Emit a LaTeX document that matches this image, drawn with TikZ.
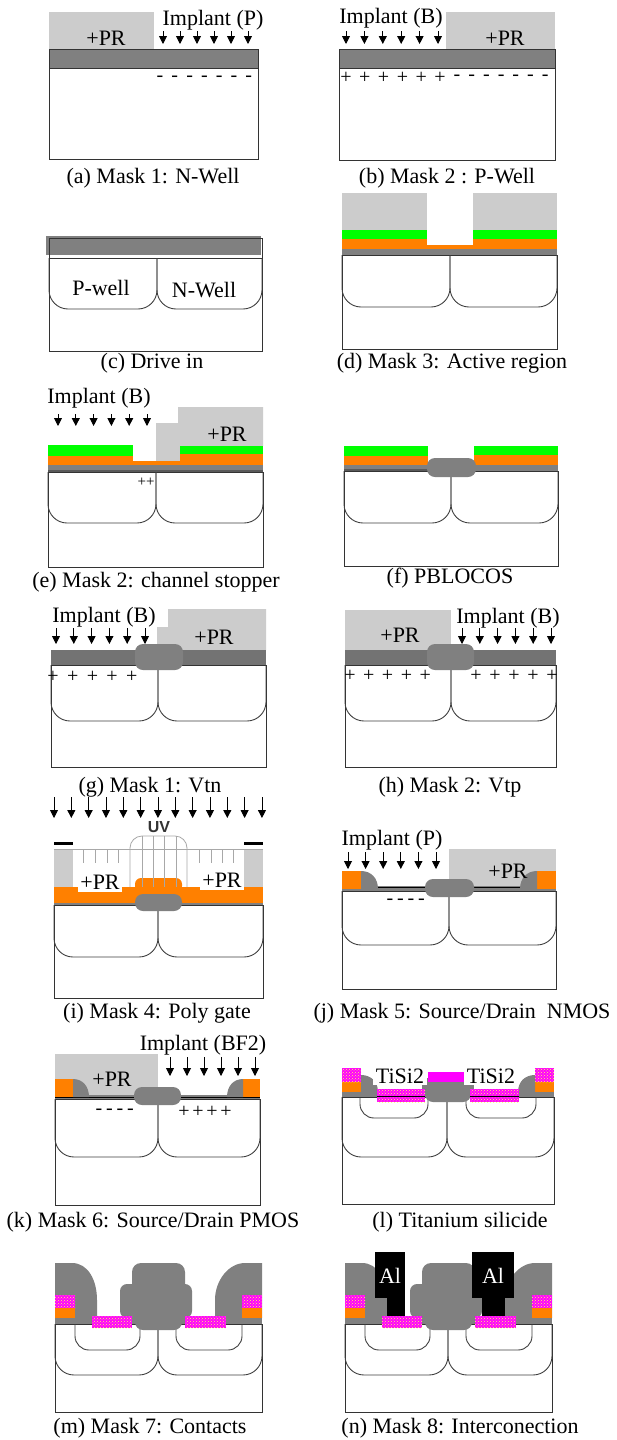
\documentclass[tikz,border=0pt]{standalone}
\usepackage{fontspec}
\setmainfont{Liberation Serif}
\newfontfamily\uvfont{Liberation Sans}
\usetikzlibrary{arrows.meta,patterns}

\definecolor{prgray}{HTML}{CCCCCC}
\definecolor{oxgray}{HTML}{808080}
\definecolor{siorange}{HTML}{FF8000}
\definecolor{nitgreen}{HTML}{00FF00}
\definecolor{tisi}{HTML}{FF00FF}
\definecolor{edge}{HTML}{333333}
\definecolor{uvgray}{HTML}{A8A8A8}

\tikzset{
  lbl/.style={font=\fontsize{22}{26}\selectfont, inner sep=0pt},
  sign/.style={font=\fontsize{20}{24}\selectfont, inner sep=0pt},
  implant/.style={-{Triangle[width=8pt,length=8pt]}, line width=0.9pt, black},
  substrate/.style={draw=edge, line width=1pt},
  wellline/.style={draw=black!75, line width=0.9pt, rounded corners=19pt},
  junction/.style={draw=black!75, line width=0.9pt, rounded corners=14pt},
  resist/.style={fill=prgray},
  oxide/.style={fill=oxgray},
  poly/.style={fill=siorange},
  nitride/.style={fill=nitgreen},
  locos/.style={fill=oxgray, rounded corners=8pt},
  silicide/.style={fill=tisi, postaction={pattern=crosshatch dots, pattern color=yellow!60!white}},
  uvline/.style={draw=uvgray, line width=0.8pt},
}

% two wells side by side: left x, divider x, right x, top y, bottom y
\newcommand\wellpair[5]{%
  \draw[wellline] (#1,#4) -- (#1,#5) -- (#2,#5) -- (#2,#4);
  \draw[wellline] (#2,#4) -- (#2,#5) -- (#3,#5) -- (#3,#4);}
% row of implant arrows: first x, step, count, top y, tip y
\newcommand\implantrow[5]{%
  \foreach \k in {1,...,#3}
    \draw[implant] ({#1+(\k-1)*#2},#4) -- ({#1+(\k-1)*#2},#5);}
% row of charge signs: first x, step, count, y, symbol, name prefix
\newcommand\chargerow[6]{%
  \foreach \k in {1,...,#3}
    \node[sign] (#6\k) at ({#1+(\k-1)*#2},#4) {#5};}
% sidewall spacer: x at the wall, top y, bottom y, outer foot x
\newcommand\spacer[4]{%
  \fill[oxgray] (#1,#3) -- (#1,#2) .. controls ({#1+0.6*(#4-#1)},#2) and (#4,{#2+0.4*(#3-#2)}) .. (#4,#3) -- cycle;}
% contact-level dielectric over one transistor pair: x offset
\newcommand\dielectric[1]{%
  \begin{scope}[xshift=#1pt]
  \fill[oxgray] (55,1318) -- (55,1263) -- (72,1263) .. controls (88,1263) and (97,1280) .. (97,1300) -- (97,1318) -- cycle;
  \fill[oxgray] (262,1318) -- (262,1263) -- (245,1263) .. controls (229,1263) and (215,1280) .. (215,1300) -- (215,1318) -- cycle;
  \fill[oxgray, rounded corners=7pt] (120,1318) -- (120,1284) -- (192,1284) -- (192,1318) -- cycle;
  \fill[oxgray, rounded corners=9pt] (132,1300) -- (132,1263) -- (185,1263) -- (185,1300) -- cycle;
  \end{scope}}

\begin{document}
\begin{tikzpicture}[x=1pt,y=-1pt]
\useasboundingbox (0,0) rectangle (616,1440);
\fill[white] (0,0) rectangle (616,1440);

% ---------------- (a) N-well implant
\fill[oxide] (49,49) rectangle (258,68);
\draw[substrate] (49,49) rectangle (258,159);
\draw[substrate] (49,68) -- (258,68);
\fill[resist] (49,12) rectangle (154,49);
\node[lbl] (apr) at (106,38) {+PR};
\node[lbl] (aimp) at (213,20) {Implant (P)};
\implantrow{163}{17}{6}{31}{44}
\chargerow{160}{14.8}{7}{79}{-}{aneg}
\node[lbl] (acap) at (153,178) {(a) Mask 1: N-Well};

% ---------------- (b) P-well implant
\fill[oxide] (339,49) rectangle (555,68);
\draw[substrate] (339,49) rectangle (555,160);
\draw[substrate] (339,68) -- (555,68);
\fill[resist] (446,12) rectangle (555,48.5);
\node[lbl] (bpr) at (505,38) {+PR};
\node[lbl] (bimp) at (391,18) {Implant (B)};
\implantrow{346}{18.4}{6}{31}{44}
\chargerow{346}{18.8}{6}{78}{+}{bpos}
\chargerow{457}{14.7}{7}{78}{-}{bneg}
\node[lbl] (bcap) at (447,178) {(b) Mask 2 : P-Well};

% ---------------- (c) drive in
\fill[oxide] (46,236) rectangle (261,255);
\draw[substrate] (49,238) rectangle (262,258);
\draw[substrate] (49,258) rectangle (262,351);
\wellpair{49}{157}{262}{258}{309}
\node[lbl] (cpw) at (101,288) {P-well};
\node[lbl] (cnw) at (204,290) {N-Well};
\node[lbl] (ccap) at (152,363) {(c) Drive in};

% ---------------- (d) active region
\fill[resist] (342,193) rectangle (427,230);
\fill[resist] (473,193) rectangle (557,230);
\fill[nitride] (342,230) rectangle (427,239);
\fill[nitride] (473,230) rectangle (557,239);
\fill[poly] (342,239) rectangle (427,249);
\fill[poly] (473,239) rectangle (557,249);
\fill[poly] (427,245) rectangle (473,249);
\fill[oxide] (342,249) rectangle (557,255);
\draw[substrate] (342,255) rectangle (557,349);
\wellpair{342}{450}{557}{255}{307}
\node[lbl] (dcap) at (452,363) {(d) Mask 3: Active region};

% ---------------- (e) channel stopper
\fill[resist] (156,461) -- (156,423) -- (178,423) -- (178,407) -- (263,407) -- (263,446) -- (180,446) -- (180,461) -- cycle;
\fill[poly] (48,461) rectangle (263,465);
\fill[poly] (48,456) rectangle (133,465);
\fill[poly] (180,454) rectangle (263,465);
\fill[nitride] (48,445) rectangle (133,456);
\fill[nitride] (180,446) rectangle (263,454);
\fill[oxide] (48,465) rectangle (263,472);
\fill[black!65] (48,470) rectangle (263,472);
\draw[substrate] (48,472) rectangle (263,567);
\wellpair{48}{156}{263}{472}{523}
\node[lbl] (epr) at (227,434) {+PR};
\node[lbl] (eimp) at (99,398) {Implant (B)};
\implantrow{58}{17.8}{6}{414}{426}
\node[font=\fontsize{15}{18}\selectfont, inner sep=0pt] (epos) at (146,482) {++};
\node[lbl] (ecap) at (156,582) {(e) Mask 2: channel stopper};

% ---------------- (f) LOCOS
\fill[nitride] (344,446) rectangle (428,456);
\fill[nitride] (474,446) rectangle (558,455);
\fill[poly] (344,456) rectangle (428,465);
\fill[poly] (474,455) rectangle (558,465);
\fill[oxide] (344,465) rectangle (558,471);
\fill[black!65] (344,469) rectangle (428,471);
\draw[substrate] (344,471) rectangle (558,566);
\wellpair{344}{451}{558}{471}{523}
\fill[locos] (427,458) rectangle (476,477);
\node[lbl] (fcap) at (450,578) {(f) PBLOCOS};

% ---------------- (g) Vtn implant
\fill[resist] (157,650) -- (157,627) -- (168,627) -- (168,609) -- (266,609) -- (266,650) -- cycle;
\fill[oxgray!90!black] (51,650) rectangle (266,665);
\draw[substrate] (51,665) rectangle (266,767);
\wellpair{51}{158}{266}{665}{721}
\fill[locos] (135,644) rectangle (183,670);
\node[lbl] (gpr) at (214,637) {+PR};
\node[lbl] (gimp) at (104,617) {Implant (B)};
\implantrow{56}{17.8}{6}{628}{644}
\chargerow{53}{19.7}{5}{677}{+}{gpos}
\node[lbl] (gcap) at (150,787) {(g) Mask 1: Vtn};

% ---------------- (h) Vtp implant
\fill[resist] (345,610) rectangle (451,650);
\fill[oxgray!90!black] (345,650) rectangle (556,665);
\draw[substrate] (345,665) rectangle (556,767);
\wellpair{345}{451}{556}{665}{721}
\fill[locos] (427,644) rectangle (474,670);
\node[lbl] (hpr) at (400,635) {+PR};
\node[lbl] (himp) at (508,618) {Implant (B)};
\implantrow{462}{17.8}{6}{628}{644}
\chargerow{350}{18.8}{5}{676}{+}{hposl}
\chargerow{476}{19}{5}{676}{+}{hposr}
\node[lbl] (hcap) at (450,787) {(h) Mask 2: Vtp};

% ---------------- (i) poly gate
\implantrow{54}{17.33}{13}{797}{818}
\node[font=\uvfont\bfseries\fontsize{16}{18}\selectfont, text=black!80, inner sep=0pt] (iuv) at (159,827) {UV};
\fill[black] (54,842) rectangle (73,845);
\fill[black] (244,842) rectangle (263,845);
\fill[resist] (54,849) rectangle (73,887);
\fill[resist] (244,849) rectangle (263,887);
\draw[uvline] (54,849) -- (263,849);
\foreach \t in {83,95,107,118,199,211,222,233}
  \draw[uvline] (\t,849) -- (\t,863);
\fill[poly] (54,887) rectangle (263,903);
\fill[poly, rounded corners=6pt] (135,878) rectangle (182,892);
\draw[uvline, rounded corners=12pt] (130,887) -- (130,836) -- (187,836) -- (187,887);
\foreach \t in {142,153,164,176}
  \draw[uvline] (\t,836) -- (\t,887);
\fill[oxgray] (54,903) rectangle (263,905);
\draw[substrate] (54,905) rectangle (263,998);
\wellpair{54}{158}{263}{905}{957}
\fill[locos] (135,894) rectangle (182,911);
\node[lbl, fill=white, inner xsep=2pt, inner ysep=3pt] (iprl) at (100,882) {+PR};
\node[lbl, fill=white, inner xsep=2pt, inner ysep=3pt] (iprr) at (222,880) {+PR};
\node[lbl] (icap) at (157,1013) {(i) Mask 4: Poly gate};

% ---------------- (j) NMOS source/drain
\fill[resist] (449,849) rectangle (556,886);
\fill[oxgray] (342,886) rectangle (556,891);
\draw[black, line width=0.8pt] (342,887.5) -- (556,887.5);
\fill[poly] (342,871) rectangle (361,889);
\fill[poly] (537,871) rectangle (556,889);
\spacer{361}{871}{889}{378}
\spacer{537}{871}{889}{520}
\draw[substrate] (342,891) rectangle (556,989);
\wellpair{342}{449}{556}{891}{945}
\fill[locos] (425,879) rectangle (474,897);
\node[lbl] (jpr) at (508,871) {+PR};
\node[lbl] (jimp) at (392,840) {Implant (P)};
\implantrow{348}{17.6}{6}{852}{869}
\chargerow{390}{10.5}{4}{902}{-}{jneg}
\node[lbl] (jcap) at (462,1013) {(j) Mask 5: Source/Drain\ \ NMOS};

% ---------------- (k) PMOS source/drain
\fill[resist] (55,1054) rectangle (158,1095);
\fill[oxgray] (55,1095) rectangle (260,1099);
\draw[black, line width=0.8pt] (55,1097) -- (260,1097);
\fill[poly] (55,1079) rectangle (73,1097);
\fill[poly] (243,1079) rectangle (260,1097);
\spacer{73}{1079}{1097}{89}
\spacer{243}{1079}{1097}{227}
\draw[substrate] (55,1099) rectangle (260,1205);
\wellpair{55}{158}{260}{1099}{1157}
\fill[locos] (134,1087) rectangle (181,1105);
\node[lbl] (kpr) at (112,1079) {+PR};
\node[lbl] (kimp) at (203,1045) {Implant (BF2)};
\implantrow{170}{17}{6}{1057}{1076}
\chargerow{99}{10.5}{4}{1112}{-}{kneg}
\chargerow{184}{14}{4}{1112}{+}{kpos}
\node[lbl] (kcap) at (153,1222) {(k) Mask 6: Source/Drain PMOS};

% ---------------- (l) titanium silicide
\fill[oxgray] (342,1092) rectangle (554,1097);
\fill[poly] (342,1082) rectangle (361,1092);
\fill[poly] (535,1082) rectangle (554,1092);
\fill[silicide] (342,1068) rectangle (361,1082);
\fill[silicide] (535,1068) rectangle (554,1082);
\spacer{361}{1075}{1092}{378}
\spacer{535}{1075}{1092}{518}
\fill[oxgray] (422,1078) rectangle (474,1097);
\fill[tisi] (428,1072) rectangle (468,1082);
\draw[substrate] (342,1097) rectangle (554,1204);
\wellpair{342}{447}{554}{1097}{1157}
\draw[junction] (360,1097) -- (360,1118) -- (428,1118) -- (428,1097);
\draw[junction] (466,1097) -- (466,1118) -- (536,1118) -- (536,1097);
\fill[locos] (425,1085) rectangle (471,1102);
\fill[silicide] (377,1089) rectangle (425,1102);
\fill[silicide] (470,1089) rectangle (519,1102);
\draw[black, line width=0.9pt] (377,1096) -- (425,1096);
\draw[black, line width=0.9pt] (470,1096) -- (519,1096);
\node[lbl, fill=white, inner xsep=3pt, inner ysep=2pt] (ltl) at (400,1076) {TiSi2};
\node[lbl, fill=white, inner xsep=3pt, inner ysep=2pt] (ltr) at (491,1076) {TiSi2};
\node[lbl] (lcap) at (460,1222) {(l) Titanium silicide};

% ---------------- (m) contacts
\dielectric{0}
\fill[silicide] (55,1295) rectangle (75,1308);
\fill[poly] (55,1308) rectangle (75,1318);
\fill[silicide] (242,1295) rectangle (262,1308);
\fill[poly] (242,1308) rectangle (262,1318);
\fill[oxgray] (55,1318) rectangle (262,1324);
\draw[substrate] (55,1324) rectangle (262,1412);
\wellpair{55}{158}{262}{1324}{1375}
\draw[junction] (75,1324) -- (75,1350) -- (140,1350) -- (140,1324);
\draw[junction] (176,1324) -- (176,1350) -- (242,1350) -- (242,1324);
\fill[locos] (135,1312) rectangle (182,1330);
\fill[silicide] (92,1316) rectangle (132,1328);
\fill[silicide] (185,1316) rectangle (226,1328);
\node[lbl] (mcap) at (150,1428) {(m) Mask 7: Contacts};

% ---------------- (n) interconnection
\dielectric{290}
\fill[silicide] (345,1295) rectangle (365,1308);
\fill[poly] (345,1308) rectangle (365,1318);
\fill[silicide] (532,1295) rectangle (552,1308);
\fill[poly] (532,1308) rectangle (552,1318);
\fill[oxgray] (345,1318) rectangle (552,1324);
\draw[substrate] (345,1324) rectangle (552,1412);
\wellpair{345}{448}{552}{1324}{1375}
\draw[junction] (365,1324) -- (365,1350) -- (430,1350) -- (430,1324);
\draw[junction] (466,1324) -- (466,1350) -- (532,1350) -- (532,1324);
\fill[locos] (425,1312) rectangle (472,1330);
\fill[silicide] (382,1316) rectangle (422,1328);
\fill[silicide] (475,1316) rectangle (516,1328);
\fill[black] (375,1252) rectangle (405,1298);
\fill[black] (387,1298) rectangle (405,1316);
\fill[black] (472,1252) rectangle (514,1298);
\fill[black] (482,1298) rectangle (505,1316);
\node[lbl, text=white] (nall) at (390,1276) {Al};
\node[lbl, text=white] (nalr) at (493,1276) {Al};
\node[lbl] (ncap) at (460,1428) {(n) Mask 8: Interconection};
\end{tikzpicture}
\end{document}
